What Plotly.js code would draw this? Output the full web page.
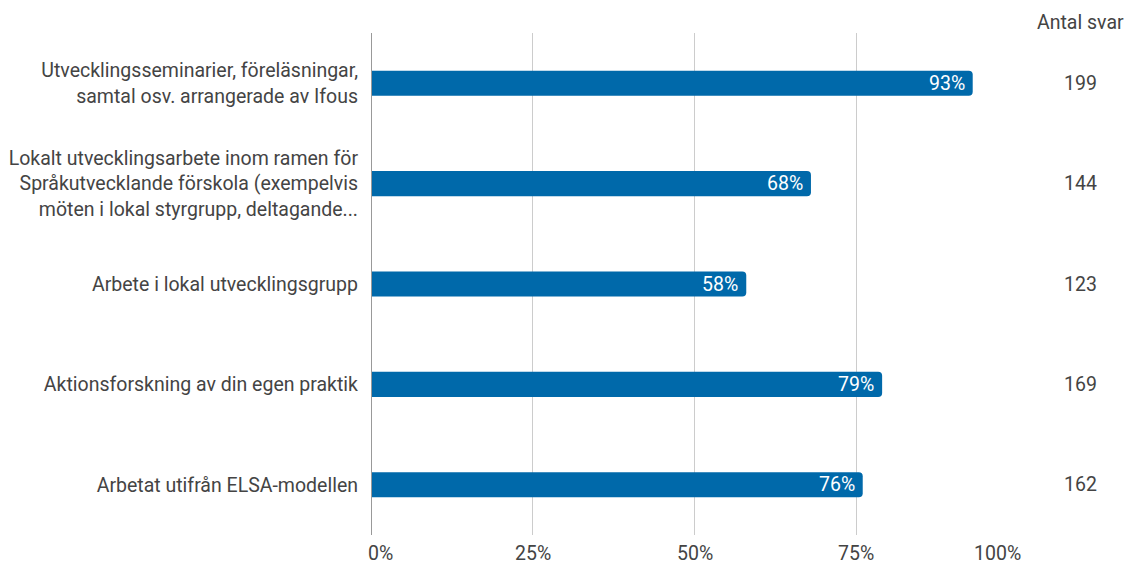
<!DOCTYPE html>
<html><head><meta charset="utf-8">
<script src="https://cdn.plot.ly/plotly-3.0.1.min.js"></script>
<style>html,body{margin:0;padding:0;background:#fff}</style>
</head><body><div id="chart" style="width:1132px;height:565px"></div>
<script>
const categories = [
  "Utvecklingsseminarier, föreläsningar,<br>samtal osv. arrangerade av Ifous",
  "Lokalt utvecklingsarbete inom ramen för<br>Språkutvecklande förskola (exempelvis<br>möten i lokal styrgrupp, deltagande...",
  "Arbete i lokal utvecklingsgrupp",
  "Aktionsforskning av din egen praktik",
  "Arbetat utifrån ELSA-modellen"
];
const percents = [93, 68, 58, 79, 76];
const counts = [199, 144, 123, 169, 162];
const countHeader = "Antal svar";
const tickVals = [0, 25, 50, 75, 100];
const tickLabels = ["0%", "25%", "50%", "75%", "100%"];

const font = {family: "Roboto, sans-serif", size: 19.5, color: "#444"};
const whiteFont = {family: "Roboto, sans-serif", size: 19.5, color: "#fff"};

const trace = {
  type: "bar", orientation: "h",
  x: percents, y: categories,
  marker: {color: "#0069aa", cornerradius: 4},
  width: 0.25,
  hoverinfo: "skip"
};

const annotations = [];
percents.forEach((v, i) => {
  annotations.push({
    xref: "x", yref: "y", x: v, y: categories[i], xanchor: "right", xshift: -6,
    text: v + "%", showarrow: false, font: whiteFont
  });
});
counts.forEach((c, i) => {
  annotations.push({
    xref: "paper", yref: "y", x: 1.097, y: categories[i],
    text: String(c), showarrow: false, xanchor: "center", font: font
  });
});
annotations.push({
  xref: "paper", yref: "paper", x: 1.097, y: 1, yshift: 11,
  text: countHeader, showarrow: false, xanchor: "center", yanchor: "middle",
  font: font
});
tickVals.forEach((v, i) => {
  annotations.push({
    xref: "x", yref: "paper", x: v, y: 0, yshift: -18,
    text: tickLabels[i], showarrow: false, yanchor: "middle",
    xanchor: i === 0 ? "left" : (i === tickVals.length - 1 ? "right" : "center"),
    xshift: i === 0 ? -5 : (i === tickVals.length - 1 ? 5 : 0),
    font: font
  });
});

const layout = {
  width: 1132, height: 565,
  margin: {l: 371, r: 114, t: 33, b: 30},
  paper_bgcolor: "#fff", plot_bgcolor: "#fff",
  showlegend: false,
  font: font,
  xaxis: {
    range: [0, 100], tickvals: tickVals, showticklabels: false,
    showgrid: true, gridcolor: "#cccccc", gridwidth: 1,
    zeroline: false, showline: false, ticks: "",
    fixedrange: true
  },
  yaxis: {
    autorange: "reversed", showgrid: false, zeroline: false,
    showline: false, ticks: "", ticklabelstandoff: 12,
    tickfont: font, fixedrange: true
  },
  shapes: [{type: "line", xref: "x", yref: "paper", x0: 0, x1: 0, y0: 0, y1: 1,
            line: {color: "#999", width: 2}}],
  annotations: annotations
};

Plotly.newPlot("chart", [trace], layout, {displayModeBar: false, staticPlot: true});
</script></body></html>
